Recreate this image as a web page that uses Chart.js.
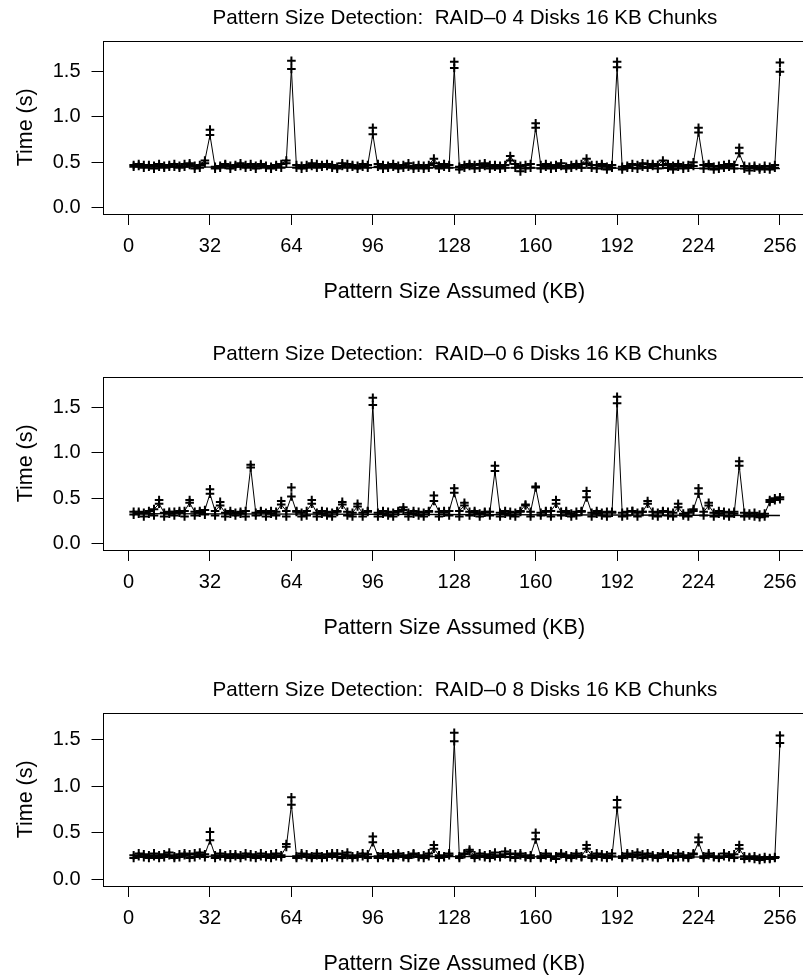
<!DOCTYPE html>
<html>
<head>
<meta charset="utf-8">
<title>Pattern Size Detection</title>
<script src="https://cdn.jsdelivr.net/npm/chart.js@4.4.1/dist/chart.umd.min.js"></script>
<style>
  html, body { margin: 0; padding: 0; background: #fff; overflow: hidden; }
  #page { width: 803px; height: 979px; overflow: hidden; }
  .panel { width: 830px; height: 336px; }
  canvas { display: block; }
</style>
</head>
<body>
<div id="page">
  <div class="panel"><canvas id="raid4" width="830" height="336"></canvas></div>
  <div class="panel"><canvas id="raid6" width="830" height="336"></canvas></div>
  <div class="panel"><canvas id="raid8" width="830" height="336"></canvas></div>
</div>
<script>
// pattern sizes tried, 2 KB apart
const sizeKB = Array.from({ length: 128 }, (_, i) => 2 * (i + 1));
const xTicks = [0, 32, 64, 96, 128, 160, 192, 224, 256];
const yTicks = [0, 0.5, 1, 1.5];
const trendKB = [2, 256];

const titles = [
  'Pattern Size Detection:  RAID\u20130 4 Disks 16 KB Chunks',
  'Pattern Size Detection:  RAID\u20130 6 Disks 16 KB Chunks',
  'Pattern Size Detection:  RAID\u20130 8 Disks 16 KB Chunks'
];

// RAID-0, 4 disks
const raid4Run1 = [
  0.47, 0.46, 0.47, 0.45, 0.46, 0.45, 0.46, 0.47, 0.45, 0.46, 0.48, 0.47, 0.46, 0.47, 0.52, 0.80,
  0.45, 0.46, 0.47, 0.46, 0.47, 0.46, 0.47, 0.48, 0.46, 0.47, 0.46, 0.45, 0.47, 0.48, 0.52, 1.53,
  0.44, 0.46, 0.47, 0.46, 0.48, 0.47, 0.46, 0.47, 0.45, 0.46, 0.48, 0.47, 0.46, 0.45, 0.47, 0.81,
  0.45, 0.47, 0.46, 0.45, 0.46, 0.47, 0.45, 0.46, 0.44, 0.46, 0.47, 0.54, 0.46, 0.45, 0.47, 1.54,
  0.45, 0.47, 0.46, 0.47, 0.48, 0.46, 0.47, 0.45, 0.46, 0.47, 0.57, 0.48, 0.46, 0.47, 0.48, 0.88,
  0.47, 0.45, 0.46, 0.47, 0.46, 0.45, 0.47, 0.46, 0.48, 0.54, 0.47, 0.47, 0.46, 0.45, 0.47, 1.55,
  0.45, 0.46, 0.48, 0.47, 0.49, 0.48, 0.46, 0.47, 0.52, 0.48, 0.46, 0.45, 0.46, 0.47, 0.50, 0.83,
  0.47, 0.46, 0.45, 0.46, 0.47, 0.45, 0.47, 0.60, 0.46, 0.45, 0.46, 0.44, 0.46, 0.45, 0.47, 1.50
];
const raid4Run2 = [
  0.45, 0.48, 0.44, 0.47, 0.43, 0.48, 0.44, 0.45, 0.48, 0.44, 0.45, 0.49, 0.43, 0.44, 0.49, 0.86,
  0.43, 0.44, 0.48, 0.43, 0.45, 0.49, 0.44, 0.45, 0.43, 0.48, 0.44, 0.43, 0.45, 0.44, 0.49, 1.62,
  0.47, 0.43, 0.44, 0.49, 0.44, 0.45, 0.48, 0.44, 0.43, 0.49, 0.44, 0.45, 0.43, 0.48, 0.44, 0.88,
  0.48, 0.43, 0.44, 0.48, 0.43, 0.44, 0.49, 0.43, 0.47, 0.43, 0.44, 0.49, 0.43, 0.48, 0.44, 1.61,
  0.42, 0.44, 0.48, 0.43, 0.44, 0.49, 0.43, 0.47, 0.43, 0.44, 0.52, 0.44, 0.40, 0.43, 0.44, 0.93,
  0.43, 0.48, 0.43, 0.44, 0.49, 0.43, 0.44, 0.48, 0.44, 0.49, 0.44, 0.43, 0.48, 0.42, 0.44, 1.61,
  0.42, 0.44, 0.44, 0.43, 0.45, 0.44, 0.48, 0.43, 0.47, 0.44, 0.42, 0.48, 0.43, 0.44, 0.46, 0.88,
  0.43, 0.48, 0.42, 0.43, 0.44, 0.48, 0.43, 0.66, 0.43, 0.41, 0.44, 0.42, 0.43, 0.42, 0.44, 1.60
];
const raid4Trend = [0.45, 0.43];

// RAID-0, 6 disks
const raid6Run1 = [
  0.35, 0.33, 0.34, 0.33, 0.38, 0.44, 0.34, 0.33, 0.35, 0.34, 0.36, 0.45, 0.35, 0.34, 0.37, 0.55,
  0.36, 0.42, 0.34, 0.33, 0.34, 0.33, 0.36, 0.84, 0.34, 0.36, 0.34, 0.33, 0.35, 0.43, 0.36, 0.52,
  0.35, 0.34, 0.36, 0.44, 0.34, 0.33, 0.35, 0.34, 0.36, 0.43, 0.35, 0.34, 0.41, 0.34, 0.35, 1.53,
  0.34, 0.33, 0.35, 0.34, 0.36, 0.40, 0.34, 0.33, 0.35, 0.34, 0.36, 0.47, 0.35, 0.34, 0.36, 0.56,
  0.36, 0.42, 0.35, 0.34, 0.33, 0.34, 0.35, 0.80, 0.34, 0.33, 0.35, 0.34, 0.36, 0.43, 0.35, 0.62,
  0.34, 0.35, 0.36, 0.44, 0.35, 0.34, 0.33, 0.35, 0.36, 0.51, 0.34, 0.33, 0.34, 0.35, 0.34, 1.55,
  0.34, 0.35, 0.36, 0.34, 0.35, 0.44, 0.35, 0.34, 0.36, 0.35, 0.34, 0.40, 0.33, 0.34, 0.38, 0.55,
  0.35, 0.42, 0.34, 0.33, 0.35, 0.34, 0.33, 0.86, 0.34, 0.33, 0.34, 0.32, 0.33, 0.46, 0.48, 0.49
];
const raid6Run2 = [
  0.32, 0.35, 0.30, 0.36, 0.31, 0.48, 0.30, 0.35, 0.31, 0.36, 0.30, 0.48, 0.31, 0.36, 0.32, 0.60,
  0.31, 0.46, 0.30, 0.36, 0.31, 0.35, 0.30, 0.87, 0.31, 0.35, 0.30, 0.36, 0.31, 0.47, 0.30, 0.62,
  0.36, 0.30, 0.31, 0.48, 0.30, 0.36, 0.31, 0.30, 0.35, 0.46, 0.31, 0.30, 0.44, 0.30, 0.36, 1.61,
  0.30, 0.36, 0.31, 0.30, 0.35, 0.37, 0.30, 0.36, 0.31, 0.30, 0.35, 0.53, 0.30, 0.36, 0.31, 0.61,
  0.30, 0.45, 0.31, 0.36, 0.30, 0.35, 0.31, 0.86, 0.30, 0.36, 0.31, 0.30, 0.35, 0.42, 0.30, 0.63,
  0.31, 0.36, 0.30, 0.48, 0.31, 0.36, 0.30, 0.31, 0.35, 0.58, 0.30, 0.36, 0.31, 0.30, 0.35, 1.62,
  0.30, 0.31, 0.36, 0.30, 0.35, 0.47, 0.31, 0.30, 0.35, 0.31, 0.30, 0.44, 0.31, 0.30, 0.36, 0.61,
  0.31, 0.45, 0.30, 0.36, 0.31, 0.30, 0.35, 0.91, 0.30, 0.31, 0.30, 0.29, 0.30, 0.48, 0.50, 0.51
];
const raid6Trend = [0.33, 0.31];

// RAID-0, 8 disks
const raid8Run1 = [
  0.26, 0.25, 0.27, 0.26, 0.25, 0.26, 0.27, 0.26, 0.25, 0.27, 0.26, 0.27, 0.28, 0.26, 0.27, 0.42,
  0.26, 0.25, 0.26, 0.27, 0.25, 0.26, 0.25, 0.27, 0.26, 0.25, 0.26, 0.27, 0.25, 0.26, 0.35, 0.80,
  0.25, 0.26, 0.27, 0.25, 0.26, 0.25, 0.27, 0.26, 0.28, 0.27, 0.26, 0.25, 0.26, 0.25, 0.27, 0.40,
  0.25, 0.26, 0.25, 0.27, 0.26, 0.25, 0.26, 0.27, 0.25, 0.26, 0.25, 0.33, 0.26, 0.25, 0.26, 1.48,
  0.25, 0.27, 0.30, 0.26, 0.25, 0.26, 0.27, 0.25, 0.26, 0.27, 0.28, 0.27, 0.26, 0.25, 0.26, 0.43,
  0.25, 0.26, 0.24, 0.25, 0.27, 0.26, 0.25, 0.26, 0.25, 0.33, 0.26, 0.25, 0.27, 0.26, 0.25, 0.77,
  0.25, 0.26, 0.27, 0.26, 0.27, 0.25, 0.26, 0.25, 0.27, 0.26, 0.25, 0.24, 0.26, 0.25, 0.27, 0.40,
  0.25, 0.26, 0.25, 0.24, 0.25, 0.26, 0.27, 0.33, 0.25, 0.24, 0.25, 0.23, 0.24, 0.23, 0.24, 1.46
];
const raid8Run2 = [
  0.23, 0.28, 0.24, 0.23, 0.28, 0.23, 0.24, 0.29, 0.23, 0.24, 0.28, 0.23, 0.24, 0.29, 0.24, 0.51,
  0.23, 0.28, 0.24, 0.23, 0.27, 0.23, 0.28, 0.24, 0.23, 0.28, 0.24, 0.23, 0.28, 0.24, 0.38, 0.88,
  0.23, 0.28, 0.24, 0.23, 0.28, 0.23, 0.24, 0.28, 0.24, 0.23, 0.29, 0.23, 0.24, 0.28, 0.23, 0.46,
  0.23, 0.28, 0.24, 0.23, 0.28, 0.24, 0.23, 0.28, 0.24, 0.23, 0.28, 0.37, 0.23, 0.24, 0.28, 1.57,
  0.23, 0.28, 0.32, 0.23, 0.28, 0.24, 0.23, 0.29, 0.24, 0.30, 0.24, 0.23, 0.28, 0.24, 0.23, 0.50,
  0.23, 0.28, 0.24, 0.22, 0.28, 0.24, 0.23, 0.28, 0.24, 0.37, 0.23, 0.28, 0.24, 0.23, 0.28, 0.85,
  0.23, 0.28, 0.24, 0.29, 0.23, 0.28, 0.24, 0.23, 0.28, 0.24, 0.23, 0.28, 0.24, 0.23, 0.28, 0.45,
  0.23, 0.28, 0.24, 0.23, 0.28, 0.24, 0.23, 0.37, 0.22, 0.23, 0.22, 0.21, 0.22, 0.22, 0.23, 1.54
];
const raid8Trend = [0.25, 0.24];

const FONT = '"Liberation Sans", Arial, Helvetica, sans-serif';
Chart.defaults.color = '#000';
Chart.defaults.font.family = FONT;
Chart.defaults.font.size = 20;

// box round the plotting region, like R's bty="o"
const frame = {
  id: 'frame',
  afterDraw(chart) {
    const { ctx, chartArea: a } = chart;
    ctx.save();
    ctx.strokeStyle = '#000';
    ctx.lineWidth = 1;
    ctx.strokeRect(Math.round(a.left) + 0.5, Math.round(a.top) + 0.5,
      Math.round(a.right - a.left), Math.round(a.bottom - a.top));
    ctx.restore();
  }
};

// main title sits at a fixed spot, not centred on the canvas
const heading = {
  id: 'heading',
  afterDraw(chart, args, opts) {
    const ctx = chart.ctx;
    ctx.save();
    ctx.font = '20.6px ' + FONT;
    ctx.fillStyle = '#000';
    ctx.textAlign = 'center';
    ctx.textBaseline = 'alphabetic';
    ctx.fillText(opts.text, opts.x, opts.y);
    ctx.restore();
  }
};

const pts = (ys) => ys.map((y, i) => ({ x: sizeKB[i], y }));

function panel(id, title, run1, run2, trend, yMin, yMax) {
  const cross = {
    pointStyle: 'cross',
    pointRadius: 4.3,
    pointHoverRadius: 4.3,
    pointBorderWidth: 2,
    pointBorderColor: '#000',
    pointBackgroundColor: '#000'
  };
  return new Chart(document.getElementById(id), {
    type: 'line',
    data: {
      datasets: [
        Object.assign({ data: pts(run1), borderColor: '#000', borderWidth: 1, tension: 0 }, cross),
        Object.assign({ data: pts(run2), showLine: false }, cross),
        {
          data: trend.map((y, i) => ({ x: trendKB[i], y })),
          borderColor: '#000', borderWidth: 1.3, pointRadius: 0
        }
      ]
    },
    plugins: [frame, heading],
    options: {
      responsive: false,
      animation: false,
      events: [],
      layout: { padding: { top: 40.7, right: 24, left: 0, bottom: 0 } },
      plugins: {
        legend: { display: false },
        tooltip: { enabled: false },
        heading: { text: title, x: 465, y: 24 }
      },
      scales: {
        x: {
          type: 'linear',
          min: -10.24,
          max: 266.24,
          afterBuildTicks: (s) => { s.ticks = xTicks.map((v) => ({ value: v })); },
          afterFit: (s) => { s.height = 122; },
          ticks: { autoSkip: false, maxRotation: 0, padding: 9, callback: (v) => String(v) },
          grid: { drawOnChartArea: false, drawTicks: true, tickLength: 11, color: '#000', lineWidth: 1 },
          border: { display: false },
          title: { display: true, text: 'Pattern Size Assumed (KB)', font: { size: 21.5 }, padding: { top: 0, bottom: 31 } }
        },
        y: {
          min: yMin,
          max: yMax,
          afterBuildTicks: (s) => { s.ticks = yTicks.map((v) => ({ value: v })); },
          afterFit: (s) => { s.width = 102.5; },
          ticks: { padding: 11, callback: (v) => v.toFixed(1) },
          grid: { drawOnChartArea: false, drawTicks: true, tickLength: 11, color: '#000', lineWidth: 1 },
          border: { display: false },
          title: { display: true, text: 'Time (s)', font: { size: 21.5 }, padding: { top: 13, bottom: 0 } }
        }
      }
    }
  });
}

panel('raid4', titles[0], raid4Run1, raid4Run2, raid4Trend, -0.071, 1.842);
panel('raid6', titles[1], raid6Run1, raid6Run2, raid6Trend, -0.071, 1.842);
panel('raid8', titles[2], raid8Run1, raid8Run2, raid8Trend, -0.069, 1.785);
</script>
</body>
</html>
